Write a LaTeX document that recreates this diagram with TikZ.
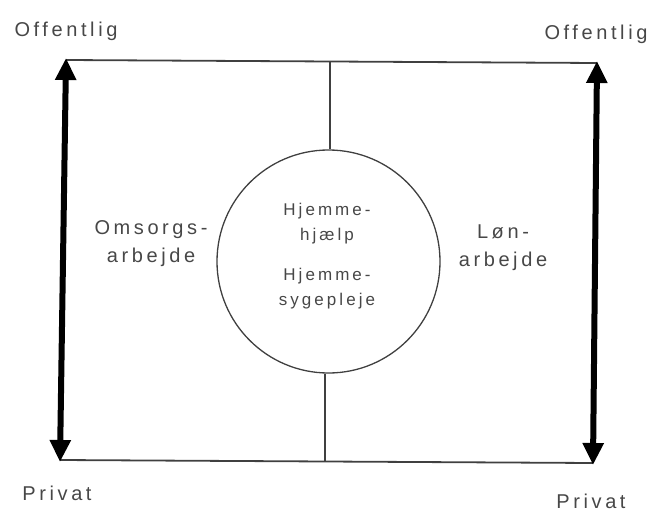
\documentclass[tikz,border=0pt]{standalone}
\usepackage{fontspec}
\setmainfont{Liberation Sans}[LetterSpace=18]
\usetikzlibrary{arrows.meta}
\begin{document}
\begin{tikzpicture}[x=1pt,y=-1pt,
  lbl/.style={text=black!72, font=\fontsize{20}{28}\selectfont, align=center, inner sep=0pt},
  inlbl/.style={text=black!72, font=\fontsize{17}{25}\selectfont, align=center, inner sep=0pt},
  frame/.style={draw=black!75, line width=1.8pt},
  axis/.style={draw=black, line width=6pt, {Triangle[length=22pt,width=20pt]}-{Triangle[length=22pt,width=20pt]}, shorten <=-2pt, shorten >=-2pt}
]
\useasboundingbox (0,0) rectangle (653,511);

% corners of the frame
\coordinate (tl) at (66,60);
\coordinate (tr) at (597,63);
\coordinate (bl) at (60,460);
\coordinate (br) at (593,463);
\coordinate (mt) at (330,61.5);
\coordinate (mb) at (325,461.5);

% central circle
\node[circle, draw=black!75, line width=1.3pt, minimum size=223pt, inner sep=0pt] (c) at (328.5,261.5) {};

% frame lines
\draw[frame] (tl) -- (tr);
\draw[frame] (bl) -- (br);
\draw[frame] (mt) -- (mt |- c.north);
\draw[frame] (mb |- c.south) -- (mb);

% vertical axes
\draw[axis] (bl) -- (tl);
\draw[axis] (br) -- (tr);

% axis labels
\node[lbl] (o1) at (66,31) {Offentlig};
\node[lbl] (o2) at (596,34) {Offentlig};
\node[lbl] (p1) at (57,493) {Privat};
\node[lbl] (p2) at (591,501) {Privat};

% side labels
\node[lbl] (oms) at (151,244) {Omsorgs-\\arbejde};
\node[lbl] (lon) at (503,248) {Løn-\\arbejde};

% circle contents
\node[inlbl] (hh) at (327,224) {Hjemme-\\hjælp};
\node[inlbl] (hs) at (327,289) {Hjemme-\\sygepleje};
\end{tikzpicture}
\end{document}
